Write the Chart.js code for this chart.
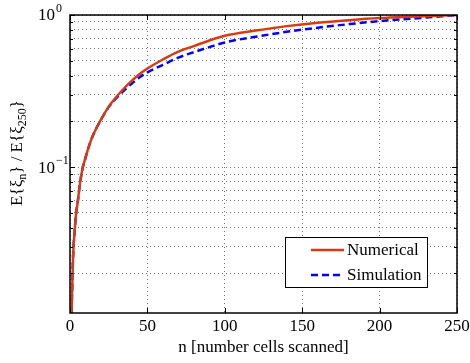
<!DOCTYPE html>
<html>
<head>
<meta charset="utf-8">
<script src="https://cdn.jsdelivr.net/npm/chart.js@4/dist/chart.umd.min.js"></script>
<style>html,body{margin:0;padding:0;background:#fff}canvas{display:block}</style>
</head>
<body>
<canvas id="c" width="470" height="363"></canvas>
<script>
// data
var nValues    = [1, 2, 3, 4, 5, 6, 7, 8, 10, 12, 15, 20, 25, 30, 35, 40, 45, 50, 60, 70, 80, 90, 100, 120, 140, 160, 180, 200, 220, 240, 250];
var numerical  = [0.011, 0.026, 0.038, 0.05, 0.059, 0.072, 0.085, 0.097, 0.115, 0.135, 0.163, 0.205, 0.25, 0.29, 0.33, 0.37, 0.41, 0.445, 0.51, 0.575, 0.625, 0.68, 0.73, 0.79, 0.845, 0.89, 0.925, 0.955, 0.975, 0.992, 1.0];
var simulation = [0.011, 0.026, 0.038, 0.05, 0.059, 0.072, 0.085, 0.097, 0.115, 0.135, 0.163, 0.205, 0.248, 0.285, 0.32, 0.355, 0.39, 0.42, 0.47, 0.525, 0.57, 0.615, 0.66, 0.72, 0.775, 0.825, 0.87, 0.912, 0.945, 0.98, 1.0];
var seriesNames = ['Numerical', 'Simulation'];
var xTicks = [0, 50, 100, 150, 200, 250];
var yGridValues = [0.02, 0.03, 0.04, 0.05, 0.06, 0.07, 0.08, 0.09, 0.1, 0.2, 0.3, 0.4, 0.5, 0.6, 0.7, 0.8, 0.9, 1];
var yLabelValues = [0.1, 1];
var yLabelExps = ['\u22121', '0'];
var xTitle = 'n [number cells scanned]';

var FONT = '"Liberation Serif", "Times New Roman", serif';
var RED = '#d83b10';
var BLUE = '#0000ff';

function pts(ys) {
  return nValues.map(function (n, i) { return { x: n, y: ys[i] }; });
}

var decorations = {
  id: 'decorations',
  afterDraw: function (chart) {
    var ctx = chart.ctx, a = chart.chartArea;
    var xs = chart.scales.x, ys = chart.scales.y;
    ctx.save();

    // inward ticks
    ctx.strokeStyle = '#000';
    ctx.lineWidth = 1;
    ctx.beginPath();
    xTicks.forEach(function (v) {
      var px = Math.round(xs.getPixelForValue(v)) + 0.5;
      ctx.moveTo(px, a.bottom); ctx.lineTo(px, a.bottom - 5);
      ctx.moveTo(px, a.top); ctx.lineTo(px, a.top + 5);
    });
    yGridValues.forEach(function (v) {
      var py = Math.round(ys.getPixelForValue(v)) + 0.5;
      var len = yLabelValues.indexOf(v) >= 0 ? 5 : 3;
      ctx.moveTo(a.left, py); ctx.lineTo(a.left + len, py);
      ctx.moveTo(a.right, py); ctx.lineTo(a.right - len, py);
    });
    ctx.stroke();

    // box
    ctx.lineWidth = 1.5;
    ctx.strokeRect(a.left, a.top, a.right - a.left, a.bottom - a.top);

    // y tick labels 10^k
    ctx.fillStyle = '#000';
    ctx.textBaseline = 'middle';
    ctx.textAlign = 'left';
    yLabelValues.forEach(function (v, i) {
      var py = ys.getPixelForValue(v);
      ctx.font = '17px ' + FONT;
      ctx.fillText('10', 38, py + 1);
      var w = ctx.measureText('10').width;
      ctx.font = '12px ' + FONT;
      ctx.fillText(yLabelExps[i], 38 + w + 1, py - 6);
    });

    // y axis title with subscripts
    ctx.save();
    ctx.translate(18, 153);
    ctx.rotate(-Math.PI / 2);
    var parts = [['E{\u03be', 0], ['n', 1], ['} / E{\u03be', 0], ['250', 1], ['}', 0]];
    var total = 0;
    parts.forEach(function (p) {
      ctx.font = (p[1] ? '12px ' : '17px ') + FONT;
      total += ctx.measureText(p[0]).width;
    });
    var x = -total / 2;
    parts.forEach(function (p) {
      ctx.font = (p[1] ? '12px ' : '17px ') + FONT;
      ctx.fillText(p[0], x, p[1] ? 5 : 0);
      x += ctx.measureText(p[0]).width;
    });
    ctx.restore();

    // x axis title
    ctx.font = '17px ' + FONT;
    ctx.textAlign = 'center';
    ctx.textBaseline = 'alphabetic';
    ctx.fillText(xTitle, (a.left + a.right) / 2, 352);

    // legend
    var lx = 285.5, ly = 237.5, lw = 142, lh = 50;
    ctx.fillStyle = '#fff';
    ctx.fillRect(lx, ly, lw, lh);
    ctx.strokeStyle = '#000';
    ctx.lineWidth = 1;
    ctx.strokeRect(lx, ly, lw, lh);
    chart.data.datasets.forEach(function (ds, i) {
      var yy = 250 + i * 25;
      ctx.strokeStyle = ds.borderColor;
      ctx.lineWidth = 2.5;
      ctx.setLineDash(ds.borderDash || []);
      ctx.beginPath();
      ctx.moveTo(311, yy); ctx.lineTo(344, yy);
      ctx.stroke();
      ctx.setLineDash([]);
      ctx.fillStyle = '#000';
      ctx.textAlign = 'left';
      ctx.textBaseline = 'middle';
      ctx.font = '17px ' + FONT;
      ctx.fillText(ds.label, 347, yy + 1);
    });

    ctx.restore();
  }
};

new Chart('c', {
  type: 'line',
  data: {
    datasets: [
      {
        label: seriesNames[0],
        data: pts(numerical),
        borderColor: RED,
        borderWidth: 2.5,
        pointRadius: 0,
        cubicInterpolationMode: 'monotone',
        fill: false
      },
      {
        label: seriesNames[1],
        data: pts(simulation),
        borderColor: BLUE,
        borderWidth: 2.5,
        borderDash: [7, 4],
        pointRadius: 0,
        cubicInterpolationMode: 'monotone',
        fill: false
      }
    ]
  },
  options: {
    responsive: false,
    animation: false,
    devicePixelRatio: 1,
    layout: { padding: { top: 15, right: 13, left: 0, bottom: 0 } },
    plugins: { legend: { display: false }, tooltip: { enabled: false } },
    scales: {
      x: {
        type: 'linear',
        min: 0,
        max: 250,
        afterBuildTicks: function (s) { s.ticks = xTicks.map(function (v) { return { value: v }; }); },
        afterFit: function (s) { s.height = 50; s.paddingLeft = 0; s.paddingRight = 0; },
        ticks: { color: '#000', font: { family: FONT, size: 17 }, padding: 3, maxRotation: 0 },
        grid: { color: 'rgba(0,0,0,0.55)', lineWidth: 1, drawTicks: false },
        border: { display: false, dash: [1, 3] }
      },
      y: {
        type: 'logarithmic',
        min: 0.011,
        max: 1,
        afterBuildTicks: function (s) { s.ticks = yGridValues.map(function (v) { return { value: v }; }); },
        afterFit: function (s) { s.width = 70; },
        ticks: { display: false },
        grid: { color: 'rgba(0,0,0,0.55)', lineWidth: 1, drawTicks: false },
        border: { display: false, dash: [1, 3] }
      }
    }
  },
  plugins: [decorations]
});
</script>
</body>
</html>
